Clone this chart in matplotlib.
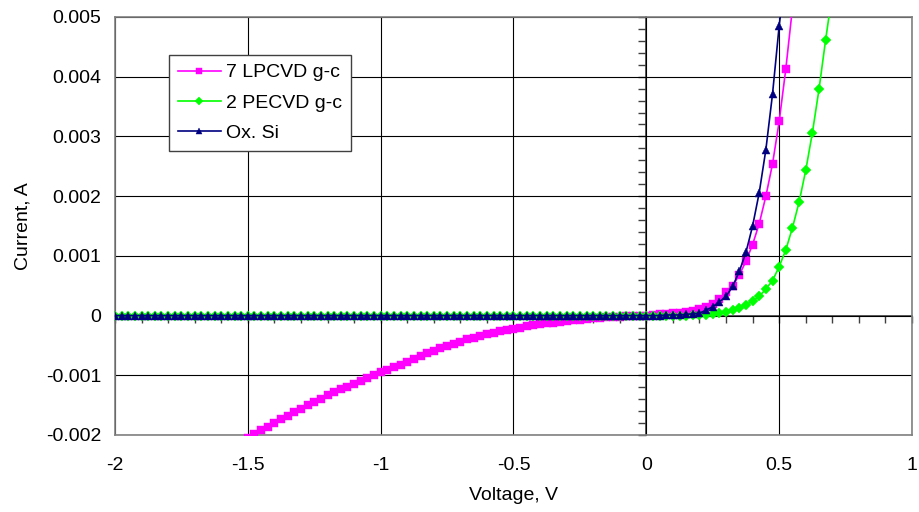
import numpy as np
import matplotlib
matplotlib.use("Agg")
import matplotlib.pyplot as plt

plt.rcParams['font.family'] = ['Liberation Sans', 'DejaVu Sans']

# voltage sweep step (V)
v_step = 0.025

# 7 LPCVD g-c : sweep from -1.5 V to 0.55 V, current in mA
lp_v_start, lp_v_end = -1.5, 0.55
lp_i_ma = [
    -2.05, -1.99, -1.92, -1.86, -1.80, -1.74, -1.68, -1.62, -1.56, -1.50,
    -1.445, -1.39, -1.335, -1.285, -1.235, -1.19, -1.14, -1.09, -1.04, -0.99,
    -0.945, -0.905, -0.865, -0.825, -0.78, -0.72, -0.67, -0.63, -0.59, -0.55,
    -0.51, -0.47, -0.435, -0.40, -0.37, -0.34, -0.31, -0.285, -0.265, -0.245,
    -0.225, -0.20, -0.18, -0.163, -0.147, -0.132, -0.118, -0.104, -0.091, -0.08,
    -0.069, -0.058, -0.048, -0.039, -0.031, -0.024, -0.017, -0.011, -0.006, -0.002,
    0.0,
    0.01, 0.02, 0.03, 0.04, 0.05, 0.06, 0.08, 0.11, 0.15, 0.20,
    0.28, 0.39, 0.50, 0.68, 0.91, 1.19, 1.54, 2.00, 2.54, 3.25,
    4.13, 5.15,
]

# 2 PECVD g-c : sweep from -2 V to 0.7 V, current in mA
pe_v_start, pe_v_end = -2.0, 0.7
pe_i_ma = [0.0] * 81 + [
    0.0, 0.0, 0.0, 0.0, 0.0, 0.0, 0.003, 0.005, 0.01, 0.02,
    0.04, 0.06, 0.09, 0.13, 0.184, 0.24, 0.32, 0.446, 0.585, 0.82,
    1.10, 1.47, 1.90, 2.43, 3.06, 3.79, 4.62, 5.40,
]

# Ox. Si : sweep from -2 V to 0.525 V, current in mA
ox_v_start, ox_v_end = -2.0, 0.525
ox_i_ma = [0.0] * 81 + [
    0.0, 0.0, 0.01, 0.01, 0.01, 0.02, 0.03, 0.04, 0.09, 0.15,
    0.23, 0.32, 0.49, 0.74, 1.06, 1.50, 2.06, 2.78, 3.71, 4.85,
    5.80,
]

series_names = ['7 LPCVD g-c', '2 PECVD g-c', 'Ox. Si']
series_colors = ['#FF00FF', '#00FF00', '#000080']
series_markers = ['s', 'D', '^']
series_msize = [5.5, 5.2, 6]

x_ticks = [-2, -1.5, -1, -0.5, 0, 0.5, 1]
x_labels = ['-2', '-1.5', '-1', '-0.5', '0', '0.5', '1']
y_ticks = [-0.002, -0.001, 0, 0.001, 0.002, 0.003, 0.004, 0.005]
y_labels = ['-0.002', '-0.001', '0', '0.001', '0.002', '0.003', '0.004', '0.005']


def sweep(v0, v1):
    n = int(round((v1 - v0) / v_step)) + 1
    return np.round(v0 + v_step * np.arange(n), 3)


volts = [sweep(lp_v_start, lp_v_end), sweep(pe_v_start, pe_v_end), sweep(ox_v_start, ox_v_end)]
currents = [np.array(lp_i_ma) * 1e-3, np.array(pe_i_ma) * 1e-3, np.array(ox_i_ma) * 1e-3]

fig, ax = plt.subplots(figsize=(9.2, 5.12), dpi=100)
fig.subplots_adjust(left=0.125, right=0.9913, bottom=0.1504, top=0.9668)

for v, i, name, c, m, ms in zip(volts, currents, series_names, series_colors, series_markers, series_msize):
    ax.plot(v, i, color=c, lw=1.2, marker=m, ms=ms, mec=c, mfc=c, mew=0.3, label=name, zorder=3)

ax.set_xlim(-2, 1)
ax.set_ylim(-0.002, 0.005)
ax.set_xticks(x_ticks, x_labels)
ax.set_yticks(y_ticks, y_labels)
ax.tick_params(axis='both', length=0, labelsize=14, colors='black')
ax.tick_params(axis='x', pad=16)
ax.tick_params(axis='y', pad=10)
ax.grid(True, color='black', lw=0.8)
ax.set_axisbelow(True)
for sp in ax.spines.values():
    sp.set_color('#808080')
    sp.set_linewidth(1.2)

# axes crossing at the origin, with tick marks only
sx = ax.secondary_xaxis(0, transform=ax.transData)
sx.set_xticks(np.arange(-2, 1.001, 0.1))
sx.tick_params(length=5, width=1, color='#404040', labelbottom=False, labeltop=False)
for sp in sx.spines.values():
    sp.set_color('#404040')
    sp.set_linewidth(1.2)

sy = ax.secondary_yaxis(0, transform=ax.transData)
sy.set_yticks(np.arange(-0.002, 0.00501, 0.001))
sy.set_yticks(np.arange(-0.002, 0.00501, 0.0002), minor=True)
sy.tick_params(which='both', length=6, width=1, color='#404040', labelleft=False, labelright=False)
for sp in sy.spines.values():
    sp.set_color('#404040')
    sp.set_linewidth(1.2)

ax.set_xlabel('Voltage, V', fontsize=14)
ax.xaxis.set_label_coords(0.5, -0.125)
ax.set_ylabel('Current, A', fontsize=14)
ax.yaxis.set_label_coords(-0.105, 0.5)

leg = ax.legend(loc='upper left', bbox_to_anchor=(0.0678, 0.909), borderaxespad=0,
                fontsize=14, frameon=True, fancybox=False, framealpha=1,
                edgecolor='#404040', handlelength=2.2, handletextpad=0.3,
                labelspacing=0.65, borderpad=0.45, markerscale=0.8)
leg.get_frame().set_linewidth(1)

fig.savefig('out.png', dpi=100)
